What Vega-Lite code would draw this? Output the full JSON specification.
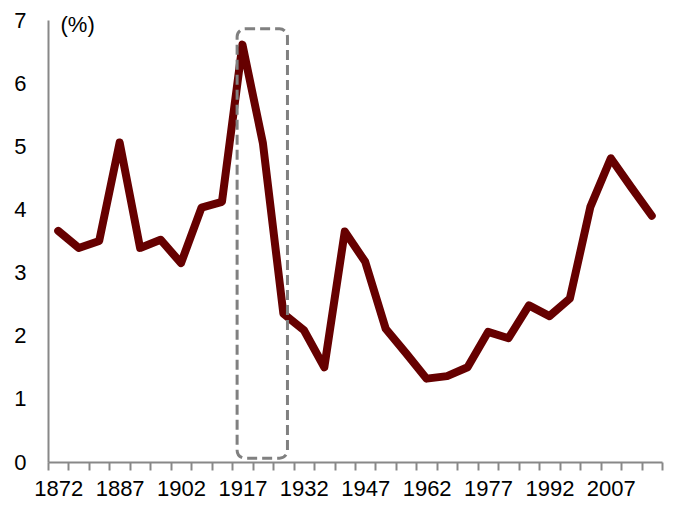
{
  "$schema": "https://vega.github.io/schema/vega-lite/v6.json",
  "autosize": "none",
  "width": 614,
  "height": 442,
  "padding": {"left": 48, "top": 20, "right": 23, "bottom": 51},
  "config": {
    "view": {"stroke": null},
    "font": "Liberation Sans",
    "axis": {"grid": false, "domainColor": "#888888", "domainWidth": 2, "tickColor": "#888888", "tickWidth": 2, "labelColor": "#000000", "labelFont": "Liberation Sans", "labelFontSize": 22, "titleFont": "Liberation Sans"}
  },
  "layer": [
    {
      "data": {"values": [
        {"year": 1872, "value": 3.66}, {"year": 1877, "value": 3.39}, {"year": 1882, "value": 3.5},
        {"year": 1887, "value": 5.06}, {"year": 1892, "value": 3.39}, {"year": 1897, "value": 3.52},
        {"year": 1902, "value": 3.15}, {"year": 1907, "value": 4.03}, {"year": 1912, "value": 4.12},
        {"year": 1917, "value": 6.61}, {"year": 1922, "value": 5.05}, {"year": 1927, "value": 2.35},
        {"year": 1932, "value": 2.09}, {"year": 1937, "value": 1.5}, {"year": 1942, "value": 3.65},
        {"year": 1947, "value": 3.17}, {"year": 1952, "value": 2.11}, {"year": 1957, "value": 1.72},
        {"year": 1962, "value": 1.32}, {"year": 1967, "value": 1.36}, {"year": 1972, "value": 1.5},
        {"year": 1977, "value": 2.06}, {"year": 1982, "value": 1.96}, {"year": 1987, "value": 2.48},
        {"year": 1992, "value": 2.31}, {"year": 1997, "value": 2.59}, {"year": 2002, "value": 4.04},
        {"year": 2007, "value": 4.81}, {"year": 2012, "value": 4.35}, {"year": 2017, "value": 3.9}
      ]},
      "mark": {"type": "line", "color": "#660000", "strokeWidth": 8, "strokeCap": "round", "strokeJoin": "round"},
      "encoding": {
        "x": {"field": "year", "type": "quantitative",
          "scale": {"domain": [1869.5, 2019.5], "nice": false, "zero": false},
          "axis": {
            "title": null,
            "values": [1869.5, 1874.5, 1879.5, 1884.5, 1889.5, 1894.5, 1899.5, 1904.5, 1909.5, 1914.5, 1919.5, 1924.5, 1929.5, 1934.5, 1939.5, 1944.5, 1949.5, 1954.5, 1959.5, 1964.5, 1969.5, 1974.5, 1979.5, 1984.5, 1989.5, 1994.5, 1999.5, 2004.5, 2009.5, 2014.5, 2019.5],
            "tickCount": 100,
            "labelExpr": "(round((datum.value-1869.5)/5)%3==0 && datum.value<2019) ? format(datum.value+2.5,'d') : ''",
            "labelOffset": 10.23,
            "labelAlign": "center",
            "labelOverlap": false,
            "labelBound": false,
            "labelFlush": false,
            "tickSize": 8,
            "labelPadding": 8
          }
        },
        "y": {"field": "value", "type": "quantitative",
          "scale": {"domain": [0, 7], "nice": false},
          "axis": {
            "values": [0, 1, 2, 3, 4, 5, 6, 7],
            "tickCount": 10,
            "format": "d",
            "ticks": false,
            "labelPadding": 22,
            "title": "(%)",
            "titleAngle": 0,
            "titleX": 12,
            "titleY": 11,
            "titleAlign": "left",
            "titleBaseline": "alphabetic",
            "titleFontSize": 22,
            "titleFontWeight": "normal",
            "titleColor": "#000000"
          }
        }
      }
    },
    {
      "data": {"values": [{"x1": 1915.7, "x2": 1928.0, "y1": 6.86, "y2": 0.06}]},
      "mark": {"type": "rect", "fill": null, "fillOpacity": 0, "stroke": "#808080", "strokeWidth": 3, "strokeDash": [10, 5], "cornerRadius": 8},
      "encoding": {
        "x": {"field": "x1", "type": "quantitative"},
        "x2": {"field": "x2"},
        "y": {"field": "y1", "type": "quantitative"},
        "y2": {"field": "y2"}
      }
    }
  ]
}
